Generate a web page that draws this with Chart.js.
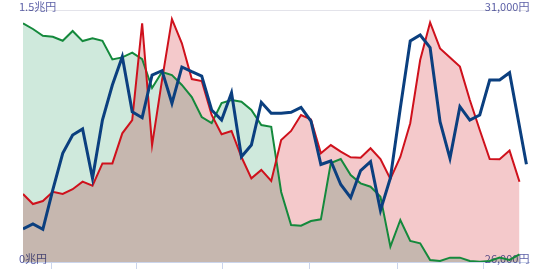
<!DOCTYPE html>
<html>
<head>
<meta charset="utf-8">
<script src="https://cdn.jsdelivr.net/npm/chart.js@4/dist/chart.umd.min.js"></script>
<style>
  html, body { margin: 0; padding: 0; background: #fff; }
</style>
</head>
<body>
<canvas id="grafico" width="550" height="270"></canvas>
<script>
// flows (兆円, left axis), weekly
const verde = [1.421,1.387,1.347,1.341,1.317,1.375,1.315,1.331,1.317,1.206,
  1.218,1.246,1.208,1.036,1.131,1.113,1.054,0.982,0.863,0.827,
  0.946,0.964,0.954,0.905,0.815,0.805,0.417,0.220,0.216,0.244,
  0.254,0.589,0.613,0.518,0.468,0.448,0.389,0.091,0.250,0.125,
  0.111,0.012,0.006,0.026,0.026,0.006,0.002,0.006,0.026,0.012,0.046]

const vermelho = [0.405,0.345,0.363,0.418,0.405,0.433,0.478,0.454,0.587,0.587,
  0.766,0.845,1.421,0.696,1.083,1.446,1.302,1.089,1.077,0.875,
  0.760,0.780,0.625,0.498,0.548,0.482,0.726,0.780,0.875,0.849,
  0.647,0.696,0.657,0.623,0.621,0.677,0.613,0.494,0.625,0.826,
  1.202,1.426,1.271,1.217,1.163,0.964,0.786,0.613,0.611,0.663,0.478]

// price (円, right axis)
const azul = [26655,26754,26649,27429,28157,28520,28639,27661,28817,29512,
  30073,28982,28863,29710,29796,29149,29869,29776,29690,29016,
  28817,29359,28089,28321,29169,28950,28950,28970,29069,28797,
  27934,28004,27538,27276,27815,27990,27022,27667,29056,30385,
  30504,30252,28784,28057,29081,28817,28917,29611,29611,29756,27938]
// last price point sits part way into the final week
const azulUltimoX = 50.7

const ticksX = [2.9, 11.4, 20.1, 28.9, 37.7, 46.4]
const labelsEsq = ['0兆円', '1.5兆円']
const labelsDir = ['26,000円', '31,000円']

function pontos(valores){
  return valores.map(function(v, i){ return {x: i, y: v} })
}

let pontosAzul = pontos(azul)
pontosAzul[pontosAzul.length - 1].x = azulUltimoX

// fills overlap like ink (multiply), lines drawn normally
const mistura = {
  id: 'mistura',
  beforeDraw(chart){ chart.ctx.globalCompositeOperation = 'multiply' },
  beforeDatasetsDraw(chart){ chart.ctx.globalCompositeOperation = 'source-over' }
}

const fonte = { family: '"Noto Sans CJK JP", "Noto Sans", sans-serif', size: 11 }
const corTexto = '#5a5ea6'

const ctx = document.getElementById('grafico')

const config = {
  type: 'line',
  data: {
    datasets: [{
      data: pontosAzul,
      yAxisID: 'yDir',
      borderColor: '#0b3f7f',
      borderWidth: 3,
      fill: false
    }, {
      data: pontos(vermelho),
      yAxisID: 'yEsq',
      borderColor: '#cf111c',
      backgroundColor: '#f4c9cb',
      borderWidth: 2,
      fill: 'origin'
    }, {
      data: pontos(verde),
      yAxisID: 'yEsq',
      borderColor: '#14893c',
      backgroundColor: '#cfe9dc',
      borderWidth: 2,
      fill: 'origin'
    }]
  },
  options: {
    responsive: false,
    animation: false,
    layout: { padding: { left: 23, right: 20.6, top: 10, bottom: 1 } },
    elements: { point: { radius: 0 }, line: { tension: 0 } },
    plugins: {
      legend: { display: false },
      tooltip: { enabled: false },
      filler: { drawTime: 'beforeDatasetsDraw' }
    },
    scales: {
      x: {
        type: 'linear',
        min: 0,
        max: 51,
        afterBuildTicks: function(scale){
          scale.ticks = ticksX.map(function(v){ return {value: v} })
        },
        ticks: { display: false },
        grid: { drawOnChartArea: false, tickLength: 7, tickColor: '#cbd5ec' },
        border: { color: '#cbd5ec' }
      },
      yEsq: {
        position: 'left',
        min: 0,
        max: 1.5,
        z: 1,
        afterBuildTicks: function(scale){
          scale.ticks = [{value: 0}, {value: 1.5}]
        },
        ticks: {
          mirror: true,
          padding: -4,
          labelOffset: -3,
          font: fonte,
          color: corTexto,
          callback: function(v, i){ return labelsEsq[i] }
        },
        grid: {
          tickLength: 8,
          tickColor: 'transparent',
          color: function(c){ return c.tick && c.tick.value > 0 ? '#e3e3ea' : 'transparent' }
        },
        border: { display: false }
      },
      yDir: {
        position: 'right',
        min: 26000,
        max: 31000,
        z: 1,
        afterBuildTicks: function(scale){
          scale.ticks = [{value: 26000}, {value: 31000}]
        },
        ticks: {
          mirror: true,
          padding: 0,
          labelOffset: -3,
          font: fonte,
          color: corTexto,
          callback: function(v, i){ return labelsDir[i] }
        },
        grid: { drawOnChartArea: false, drawTicks: false },
        border: { display: false }
      }
    }
  },
  plugins: [mistura]
}

const meuGrafico = new Chart(ctx, config)
</script>
</body>
</html>
